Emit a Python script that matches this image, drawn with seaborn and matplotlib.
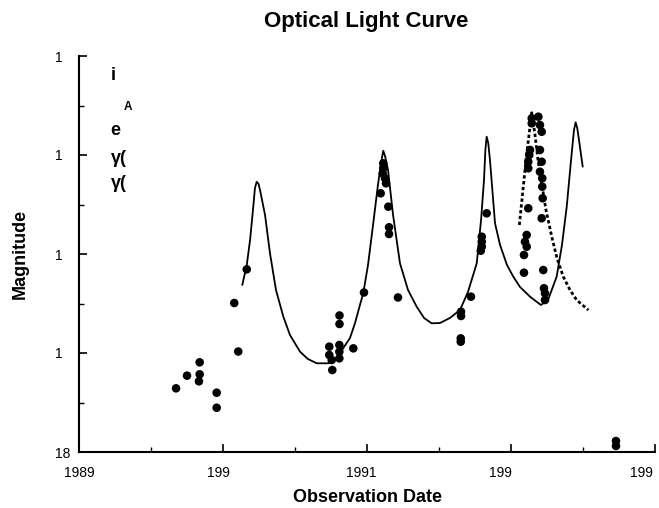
import matplotlib
matplotlib.use("Agg")
import matplotlib.pyplot as plt
import seaborn as sns
import pandas as pd
from matplotlib.transforms import ScaledTranslation

# ---------------- data ----------------
obs_date = [1989.674, 1989.750, 1989.838, 1989.838, 1989.833, 1989.956, 1989.956,
            1990.106, 1990.078, 1990.165,
            1990.809, 1990.809, 1990.738, 1990.738, 1990.755, 1990.808, 1990.808,
            1990.808, 1990.905, 1990.759, 1990.979, 1991.215,
            1991.113, 1991.113, 1991.109, 1991.125, 1991.132, 1991.095, 1991.148,
            1991.153, 1991.153,
            1991.831, 1991.797, 1991.797, 1991.797, 1991.790, 1991.722, 1991.653,
            1991.653, 1991.651, 1991.651,
            1992.144, 1992.144, 1992.190, 1992.201, 1992.213, 1992.132, 1992.127,
            1992.120, 1992.120, 1992.201, 1992.213, 1992.201, 1992.217, 1992.217,
            1992.220, 1992.120, 1992.213, 1992.109, 1992.097, 1992.109, 1992.090,
            1992.090, 1992.224, 1992.229, 1992.236, 1992.236,
            1992.729, 1992.729]
obs_mag = [17.357, 17.229, 17.094, 17.215, 17.286, 17.401, 17.553,
           16.985, 16.495, 16.155,
           16.621, 16.707, 16.936, 17.020, 17.071, 16.919, 16.987,
           17.054, 16.953, 17.172, 16.389, 16.439,
           15.084, 15.134, 15.185, 15.235, 15.286, 15.387, 15.522,
           15.730, 15.798,
           15.589, 15.825, 15.876, 15.926, 15.967, 16.431, 16.583,
           16.626, 16.852, 16.886,
           14.629, 14.680, 14.613, 14.697, 14.765, 14.949, 15.000,
           15.068, 15.134, 14.949, 15.068, 15.169, 15.235, 15.320,
           15.437, 15.538, 15.639, 15.808, 15.876, 15.926, 16.010,
           16.189, 16.162, 16.346, 16.397, 16.465,
           17.889, 17.939]

model_date = [1990.134, 1990.165, 1990.188, 1990.208, 1990.222, 1990.234, 1990.247,
              1990.257, 1990.292,
              1990.326, 1990.368, 1990.419, 1990.465, 1990.535, 1990.590, 1990.651,
              1990.731, 1990.778, 1990.826, 1990.882, 1990.917, 1990.951, 1990.974,
              1991.007, 1991.042, 1991.076, 1991.101, 1991.113, 1991.127, 1991.146,
              1991.181, 1991.229,
              1991.285, 1991.345, 1991.396, 1991.449, 1991.507, 1991.576, 1991.646,
              1991.701, 1991.762, 1991.792, 1991.8125, 1991.822, 1991.831, 1991.842,
              1991.854, 1991.889,
              1991.924, 1991.972, 1992.016, 1992.0625, 1992.132, 1992.208, 1992.257,
              1992.317, 1992.354, 1992.387, 1992.417, 1992.4375, 1992.449, 1992.460,
              1992.472, 1992.498]
model_mag = [16.313, 16.111, 15.859, 15.556, 15.333, 15.270, 15.293,
             15.354, 15.606,
             15.990, 16.364, 16.633, 16.818, 16.987, 17.061, 17.104,
             17.104, 17.071, 16.970, 16.848, 16.697, 16.515, 16.397,
             16.111, 15.707, 15.303, 15.051, 14.957, 15.020, 15.152,
             15.606, 16.094,
             16.364, 16.532, 16.646, 16.700, 16.697, 16.646, 16.566,
             16.384, 16.094, 15.657, 15.253, 14.949, 14.815, 14.879,
             15.051, 15.690,
             15.909, 16.111, 16.229, 16.333, 16.431, 16.515, 16.465,
             16.229, 15.909, 15.522, 15.051, 14.747, 14.670, 14.727,
             14.848, 15.118]

model2_date = [1992.058, 1992.083, 1992.104, 1992.125, 1992.144, 1992.167, 1992.1875,
               1992.213, 1992.243, 1992.283, 1992.319, 1992.363, 1992.410, 1992.456,
               1992.537]
model2_mag = [15.707, 15.354, 15.051, 14.798, 14.573, 14.798, 15.051,
              15.286, 15.556, 15.825, 16.040, 16.229, 16.364, 16.465,
              16.566]

x_ticks = [1989, 1990, 1991, 1992, 1993]
x_tick_labels = ["1989", "199", "1991", "199", "199"]
y_ticks = [14, 15, 16, 17, 18]
y_tick_labels = ["1", "1", "1", "1", "18"]
note_texts = ["i", "A", "e", "γ(", "γ("]

title = "Optical Light Curve"
xlabel = "Observation Date"
ylabel = "Magnitude"

# ---------------- style ----------------
sns.set_style("white")
plt.rcParams["font.family"] = ["Liberation Sans", "DejaVu Sans"]
plt.rcParams["text.color"] = "black"
plt.rcParams["axes.labelcolor"] = "black"
plt.rcParams["xtick.color"] = "black"
plt.rcParams["ytick.color"] = "black"

W, H = 659, 508
fig = plt.figure(figsize=(W / 100, H / 100), dpi=100)
L, R, T, B = 79, 655, 56, 452
ax = fig.add_axes([L / W, 1 - B / H, (R - L) / W, (B - T) / H])

def fx(px):
    return px / W

def fy(py):
    return 1 - py / H

obs = pd.DataFrame({"date": obs_date, "mag": obs_mag})
m1 = pd.DataFrame({"date": model_date, "mag": model_mag})
m2 = pd.DataFrame({"date": model2_date, "mag": model2_mag})

sns.lineplot(data=m1, x="date", y="mag", ax=ax, sort=False, estimator=None,
             color="black", linewidth=1.3)
sns.lineplot(data=m2, x="date", y="mag", ax=ax, sort=False, estimator=None,
             color="black", linewidth=2.0, linestyle=(0, (1.2, 0.9)))
sns.scatterplot(data=obs, x="date", y="mag", ax=ax, color="black", s=38,
                edgecolor="none", zorder=5, clip_on=False)
for line in ax.get_lines():
    line.set_solid_joinstyle("round")

ax.set_xlim(1989, 1993)
ax.set_ylim(18, 14)
ax.set_xlabel("")
ax.set_ylabel("")

for s in ["top", "right"]:
    ax.spines[s].set_visible(False)
for s in ["left", "bottom"]:
    ax.spines[s].set_color("black")
    ax.spines[s].set_linewidth(1.5)

ax.set_xticks(x_ticks)
ax.set_xticklabels(x_tick_labels)
ax.set_yticks(y_ticks)
ax.set_yticklabels(y_tick_labels)
ax.set_xticks([1989.5, 1990.5, 1991.5, 1992.5], minor=True)
ax.set_yticks([14.5, 15.5, 16.5, 17.5], minor=True)
ax.tick_params(which="major", direction="in", length=6, width=1.2, color="black",
               labelsize=10, labelcolor="black")
ax.tick_params(which="minor", direction="in", length=3.5, width=1.0, color="black")
ax.tick_params(axis="x", which="both", bottom=True)
ax.tick_params(axis="y", which="both", left=True)
ax.tick_params(axis="x", pad=10)
ax.tick_params(axis="y", pad=17.3)

for lab in ax.get_yticklabels():
    lab.set_horizontalalignment("left")

x_offsets = [-15, -16, -21, -22, -25]
for lab, dx in zip(ax.get_xticklabels(), x_offsets):
    lab.set_horizontalalignment("left")
    lab.set_transform(lab.get_transform() + ScaledTranslation(dx / 100, 0, fig.dpi_scale_trans))

# titles / labels
fig.text(fx(366), fy(21), title, ha="center", va="center", fontsize=16,
         fontweight="bold", color="black")
fig.text(fx(367), fy(497), xlabel, ha="center", va="center", fontsize=13,
         fontweight="bold", color="black")
fig.text(fx(20), fy(254), ylabel, ha="center", va="center", rotation=90,
         fontsize=13, fontweight="bold", color="black")

# stray annotation texts in the upper left
note_pos = [(110.5, 79.5, 13), (124, 110, 8.5), (110.5, 135, 13), (110.5, 163, 13), (110.5, 188, 13)]
for t, (px, py, fs) in zip(note_texts, note_pos):
    fig.text(fx(px), fy(py), t, ha="left", va="baseline", fontsize=fs,
             fontweight="bold", color="black")

fig.savefig("out.png", dpi=100)
